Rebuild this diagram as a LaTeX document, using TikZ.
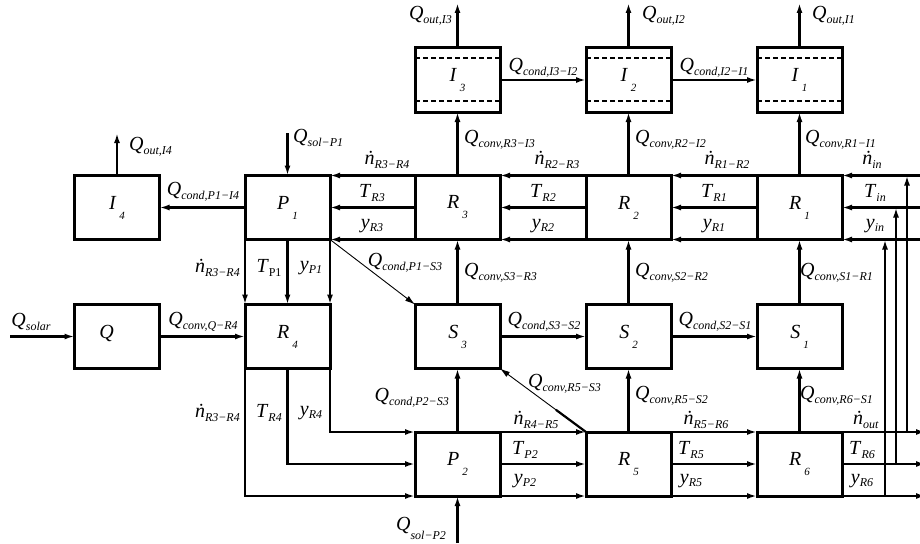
\documentclass[tikz,border=0pt]{standalone}
\usepackage{fontspec}
\setmainfont{Liberation Serif}
\usetikzlibrary{arrows.meta,calc}

\newcommand\sub[2]{\textit{#1}\raisebox{-3.5pt}{\fontsize{12}{13}\selectfont\textit{#2}}}
\newcommand\ndot[1]{\textit{\.{n}}\raisebox{-3.5pt}{\fontsize{12}{13}\selectfont\textit{#1}}}
\newcommand\blab[2]{\textit{#1}\hspace{3pt}\raisebox{-10pt}{\fontsize{11}{12}\selectfont\textit{#2}}}

\begin{document}
\begin{tikzpicture}[x=1pt,y=-1pt,
  font=\fontsize{20}{22}\selectfont,
  box/.style={draw,line width=3pt,minimum width=85pt,minimum height=64pt,inner sep=0pt,outer sep=0pt},
  tank/.style={box,path picture={
    \draw[dash pattern=on 5pt off 3pt,line width=1.3pt] ([yshift=-10pt]path picture bounding box.north west) -- ([yshift=-10pt]path picture bounding box.north east);
    \draw[dash pattern=on 5pt off 3pt,line width=1.3pt] ([yshift=11pt]path picture bounding box.south west) -- ([yshift=11pt]path picture bounding box.south east);}},
  flow/.style={line width=2.4pt,-{Latex[length=10pt,width=6pt]}},
  heat/.style={line width=0.9pt,-{Latex[length=10pt,width=6pt]}},
  lab/.style={inner sep=0pt}
]
  \useasboundingbox (0,0) rectangle (920,543);

  \node[tank] (I3) at (457.5,80) {\blab{I}{3}};
  \node[tank] (I2) at (628.5,80) {\blab{I}{2}};
  \node[tank] (I1) at (799.5,80) {\blab{I}{1}};
  \node[box] (I4) at (117,207.5) {\blab{I}{4}};
  \node[box] (P1) at (287.5,207.5) {\blab{P}{1}};
  \node[box] (R3) at (457.5,207.5) {\blab{R}{3}};
  \node[box] (R2) at (628.5,207.5) {\blab{R}{2}};
  \node[box] (R1) at (799.5,207.5) {\blab{R}{1}};
  \node[box] (Q) at (117,336.5) {\blab{Q}{\hspace{18pt}}};
  \node[box] (R4) at (287.5,336.5) {\blab{R}{4}};
  \node[box] (S3) at (457.5,336.5) {\blab{S}{3}};
  \node[box] (S2) at (628.5,336.5) {\blab{S}{2}};
  \node[box] (S1) at (799.5,336.5) {\blab{S}{1}};
  \node[box] (P2) at (457.5,464) {\blab{P}{2}};
  \node[box] (R5) at (628.5,464) {\blab{R}{5}};
  \node[box] (R6) at (799.5,464) {\blab{R}{6}};

  \coordinate (oI3) at (457.5,3);
  \coordinate (oI2) at (628.5,3);
  \coordinate (oI1) at (799.5,3);
  \coordinate (oI4) at (117,133);
  \coordinate (sP1) at (287.5,133);
  \coordinate (sP2) at (457.5,543);
  \coordinate (sol) at (10,336.5);
  \coordinate (eN) at (928,175.5);
  \coordinate (eT) at (928,207.5);
  \coordinate (eY) at (928,239.5);
  \coordinate (xN) at (926,432);
  \coordinate (xT) at (926,464);
  \coordinate (xY) at (926,496);
  \coordinate (jNb) at (907,432);
  \coordinate (jNt) at (907,175.5);
  \coordinate (jTb) at (896,464);
  \coordinate (jTt) at (896,207.5);
  \coordinate (jYb) at (885,496);
  \coordinate (jYt) at (885,239.5);

  \draw[flow] (I3.north) -- (oI3);
  \draw[flow] (I2.north) -- (oI2);
  \draw[flow] (I1.north) -- (oI1);
  \draw[flow] (I3.east) -- (I2.west);
  \draw[flow] (I2.east) -- (I1.west);
  \draw[flow] (R3.north) -- (I3.south);
  \draw[flow] (R2.north) -- (I2.south);
  \draw[flow] (R1.north) -- (I1.south);
  \draw[flow] (I4.north) -- (oI4);
  \draw[flow] (sP1) -- (P1.north);
  \draw[flow] (P1.west) -- (I4.east);

  \draw[flow] (R3.north west) -- (P1.north east);
  \draw[flow] (R3.west) -- (P1.east);
  \draw[flow] (R3.south west) -- (P1.south east);
  \draw[flow] (R2.north west) -- (R3.north east);
  \draw[flow] (R2.west) -- (R3.east);
  \draw[flow] (R2.south west) -- (R3.south east);
  \draw[flow] (R1.north west) -- (R2.north east);
  \draw[flow] (R1.west) -- (R2.east);
  \draw[flow] (R1.south west) -- (R2.south east);
  \draw[flow] (eN) -- (R1.north east);
  \draw[flow] (eT) -- (R1.east);
  \draw[flow] (eY) -- (R1.south east);

  \draw[flow] (P1.south west) -- (R4.north west);
  \draw[flow] (P1.south) -- (R4.north);
  \draw[flow] (P1.south east) -- (R4.north east);
  \draw[heat] (P1.south east) -- (S3.north west);
  \draw[flow] (sol) -- (Q.west);
  \draw[flow] (Q.east) -- (R4.west);
  \draw[flow] (S3.north) -- (R3.south);
  \draw[flow] (S2.north) -- (R2.south);
  \draw[flow] (S1.north) -- (R1.south);
  \draw[flow] (S3.east) -- (S2.west);
  \draw[flow] (S2.east) -- (S1.west);

  \draw[flow] (R4.south east) |- (P2.north west);
  \draw[flow] (R4.south) |- (P2.west);
  \draw[flow] (R4.south west) |- (P2.south west);
  \draw[flow] (P2.north) -- (S3.south);
  \draw[heat] (R5.north west) -- (S3.south east);
  \draw[line width=2.2pt] (R5.north west) -- ($(R5.north west)!0.35!(S3.south east)$);
  \draw[flow] (R5.north) -- (S2.south);
  \draw[flow] (R6.north) -- (S1.south);
  \draw[flow] (sP2) -- (P2.south);
  \draw[flow] (P2.north east) -- (R5.north west);
  \draw[flow] (P2.east) -- (R5.west);
  \draw[flow] (P2.south east) -- (R5.south west);
  \draw[flow] (R5.north east) -- (R6.north west);
  \draw[flow] (R5.east) -- (R6.west);
  \draw[flow] (R5.south east) -- (R6.south west);
  \draw[flow] (R6.north east) -- (xN);
  \draw[flow] (R6.east) -- (xT);
  \draw[flow] (R6.south east) -- (xY);
  \draw[flow] (jNb) -- (jNt);
  \draw[flow] (jTb) -- (jTt);
  \draw[flow] (jYb) -- (jYt);

  \node[lab,anchor=east] (tQoI3) at (452,16) {\sub{Q}{out,I3}};
  \node[lab,anchor=west] (tQoI2) at (642,16) {\sub{Q}{out,I2}};
  \node[lab,anchor=west] (tQoI1) at (812,16) {\sub{Q}{out,I1}};
  \node[lab] (tQcI3) at (543,68) {\sub{Q}{cond,I3−I2}};
  \node[lab] (tQcI2) at (714,68) {\sub{Q}{cond,I2−I1}};
  \node[lab,anchor=west] (tQvR3) at (464,140) {\sub{Q}{conv,R3−I3}};
  \node[lab,anchor=west] (tQvR2) at (635,140) {\sub{Q}{conv,R2−I2}};
  \node[lab,anchor=west] (tQvR1) at (805,140) {\sub{Q}{conv,R1−I1}};
  \node[lab,anchor=west] (tQoI4) at (129,147) {\sub{Q}{out,I4}};
  \node[lab,anchor=west] (tQsP1) at (293,138) {\sub{Q}{sol−P1}};
  \node[lab] (tQcP1) at (203,192) {\sub{Q}{cond,P1−I4}};

  \node[lab] (tnR3) at (387,160) {\ndot{R3−R4}};
  \node[lab] (tnR2) at (557,160) {\ndot{R2−R3}};
  \node[lab] (tnR1) at (727,160) {\ndot{R1−R2}};
  \node[lab] (tnin) at (872,160) {\ndot{in}};
  \node[lab] (tTR3) at (372,193) {\sub{T}{R3}};
  \node[lab] (tyR3) at (372,226) {\sub{y}{R3}};
  \node[lab] (tTR2) at (543,193) {\sub{T}{R2}};
  \node[lab] (tyR2) at (543,226) {\sub{y}{R2}};
  \node[lab] (tTR1) at (714,193) {\sub{T}{R1}};
  \node[lab] (tyR1) at (714,226) {\sub{y}{R1}};
  \node[lab] (tTin) at (875,193) {\sub{T}{in}};
  \node[lab] (tyin) at (875,226) {\sub{y}{in}};

  \node[lab,anchor=west] (tQvS3) at (464,273) {\sub{Q}{conv,S3−R3}};
  \node[lab,anchor=west] (tQvS2) at (635,273) {\sub{Q}{conv,S2−R2}};
  \node[lab,anchor=west] (tQvS1) at (800,273) {\sub{Q}{conv,S1−R1}};
  \node[lab] (tQcPS) at (405,263) {\sub{Q}{cond,P1−S3}};
  \node[lab,anchor=east] (tnR4a) at (240,268) {\ndot{R3−R4}};
  \node[lab] (tTP1) at (269,268) {\textit{T}\raisebox{-3.5pt}{\fontsize{12}{13}\selectfont P1}};
  \node[lab] (tyP1) at (311,268) {\sub{y}{P1}};
  \node[lab] (tQsol) at (31,322) {\sub{Q}{solar}};
  \node[lab] (tQvQ) at (203,322) {\sub{Q}{conv,Q−R4}};
  \node[lab] (tQcS3) at (544,322) {\sub{Q}{cond,S3−S2}};
  \node[lab] (tQcS2) at (715,322) {\sub{Q}{cond,S2−S1}};

  \node[lab,anchor=east] (tnR4b) at (240,413) {\ndot{R3−R4}};
  \node[lab] (tTR4) at (269,413) {\sub{T}{R4}};
  \node[lab] (tyR4) at (311,413) {\sub{y}{R4}};
  \node[lab,anchor=east] (tQcP2) at (449,398) {\sub{Q}{cond,P2−S3}};
  \node[lab,anchor=west] (tQvR5a) at (528,384) {\sub{Q}{conv,R5−S3}};
  \node[lab,anchor=west] (tQvR5b) at (635,396) {\sub{Q}{conv,R5−S2}};
  \node[lab,anchor=west] (tQvR6) at (800,396) {\sub{Q}{conv,R6−S1}};
  \node[lab] (tnR5) at (536,420) {\ndot{R4−R5}};
  \node[lab] (tnR6) at (706,420) {\ndot{R5−R6}};
  \node[lab] (tnout) at (866,420) {\ndot{out}};
  \node[lab] (tTP2) at (525,450) {\sub{T}{P2}};
  \node[lab] (tyP2) at (525,481) {\sub{y}{P2}};
  \node[lab] (tTR5) at (691,450) {\sub{T}{R5}};
  \node[lab] (tyR5) at (691,481) {\sub{y}{R5}};
  \node[lab] (tTR6) at (862,450) {\sub{T}{R6}};
  \node[lab] (tyR6) at (862,481) {\sub{y}{R6}};
  \node[lab] (tQsP2) at (421,528) {\textit{Q}\raisebox{-9pt}{\fontsize{12}{13}\selectfont\textit{sol−P2}}};
\end{tikzpicture}
\end{document}
